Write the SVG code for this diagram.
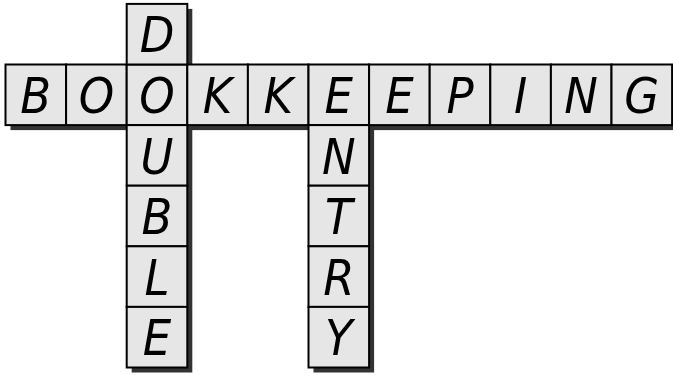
<svg xmlns="http://www.w3.org/2000/svg" width="673" height="375" viewBox="0 0 673 375">
<style>
.sh{fill:#333333;stroke:none}
.t rect{fill:#e6e6e6;stroke:#000;stroke-width:2}
.t text{font-family:"DejaVu Sans Condensed","Liberation Sans Narrow","Liberation Sans",sans-serif;font-size:50px;fill:#000;text-anchor:middle;font-style:italic}
</style>
<rect width="673" height="375" fill="#fff"/>
<g id="shadows">
<rect class="sh" x="10.5" y="69.5" width="666.6" height="60.6"/>
<rect class="sh" x="131.7" y="8.9" width="60.6" height="363.6"/>
<rect class="sh" x="313.5" y="69.5" width="60.6" height="303"/>
</g>
<g id="connectors"></g>
<g id="b1" class="t"><rect x="5.5" y="64.5" width="60.6" height="60.6"/><text x="35.8" y="113">B</text></g>
<g id="o2" class="t"><rect x="66.1" y="64.5" width="60.6" height="60.6"/><text x="96.4" y="113">O</text></g>
<g id="o3" class="t"><rect x="126.7" y="64.5" width="60.6" height="60.6"/><text x="157" y="113">O</text></g>
<g id="k4" class="t"><rect x="187.3" y="64.5" width="60.6" height="60.6"/><text x="217.6" y="113">K</text></g>
<g id="k5" class="t"><rect x="247.9" y="64.5" width="60.6" height="60.6"/><text x="278.2" y="113">K</text></g>
<g id="e6" class="t"><rect x="308.5" y="64.5" width="60.6" height="60.6"/><text x="338.8" y="113">E</text></g>
<g id="e7" class="t"><rect x="369.1" y="64.5" width="60.6" height="60.6"/><text x="399.4" y="113">E</text></g>
<g id="p8" class="t"><rect x="429.7" y="64.5" width="60.6" height="60.6"/><text x="460" y="113">P</text></g>
<g id="i9" class="t"><rect x="490.3" y="64.5" width="60.6" height="60.6"/><text x="520.6" y="113">I</text></g>
<g id="n10" class="t"><rect x="550.9" y="64.5" width="60.6" height="60.6"/><text x="581.2" y="113">N</text></g>
<g id="g11" class="t"><rect x="611.5" y="64.5" width="60.6" height="60.6"/><text x="641.8" y="113">G</text></g>
<g id="d-top" class="t"><rect x="126.7" y="3.9" width="60.6" height="60.6"/><text x="157" y="52.4">D</text></g>
<g id="u" class="t"><rect x="126.7" y="125.1" width="60.6" height="60.6"/><text x="157" y="173.6">U</text></g>
<g id="b-d" class="t"><rect x="126.7" y="185.7" width="60.6" height="60.6"/><text x="157" y="234.2">B</text></g>
<g id="l" class="t"><rect x="126.7" y="246.3" width="60.6" height="60.6"/><text x="157" y="294.8">L</text></g>
<g id="e-d" class="t"><rect x="126.7" y="306.9" width="60.6" height="60.6"/><text x="157" y="355.4">E</text></g>
<g id="n-e" class="t"><rect x="308.5" y="125.1" width="60.6" height="60.6"/><text x="338.8" y="173.6">N</text></g>
<g id="t" class="t"><rect x="308.5" y="185.7" width="60.6" height="60.6"/><text x="338.8" y="234.2">T</text></g>
<g id="r" class="t"><rect x="308.5" y="246.3" width="60.6" height="60.6"/><text x="338.8" y="294.8">R</text></g>
<g id="y" class="t"><rect x="308.5" y="306.9" width="60.6" height="60.6"/><text x="338.8" y="355.4">Y</text></g>
</svg>
